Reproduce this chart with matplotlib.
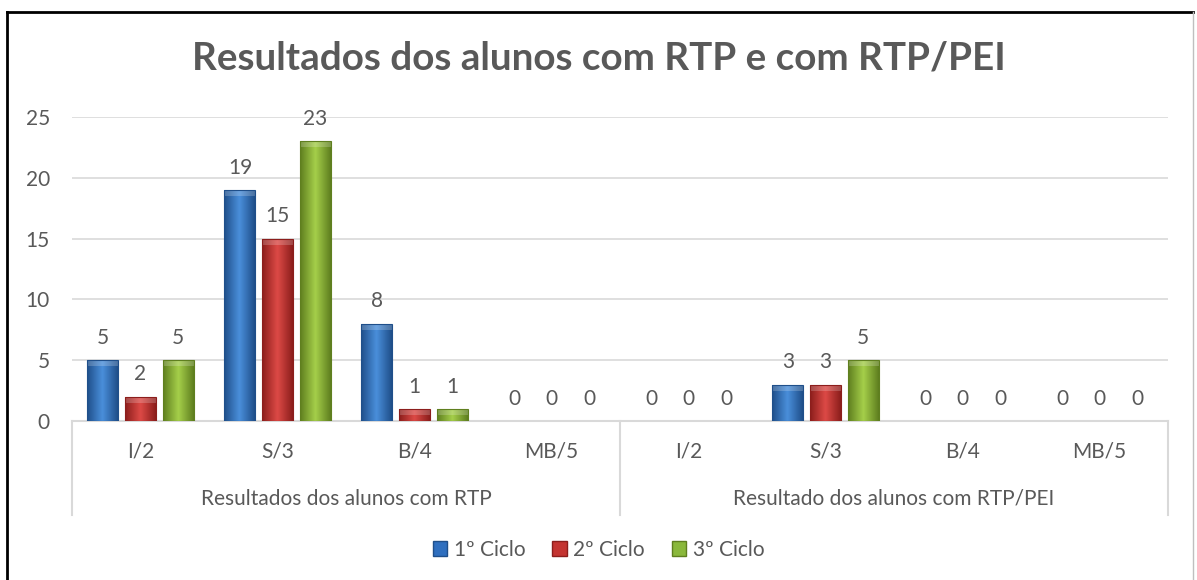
import matplotlib
matplotlib.use("Agg")
import matplotlib.pyplot as plt
import numpy as np
from matplotlib.colors import LinearSegmentedColormap
from matplotlib.lines import Line2D
from matplotlib.patches import Rectangle
from matplotlib.transforms import blended_transform_factory

plt.rcParams["font.family"] = ["Lato", "DejaVu Sans"]

TITLE = "Resultados dos alunos com RTP e com RTP/PEI"
grades = ["I/2", "S/3", "B/4", "MB/5"]
groups = ["Resultados dos alunos com RTP", "Resultado dos alunos com RTP/PEI"]
series_names = ["1º Ciclo", "2º Ciclo", "3º Ciclo"]

ciclo1 = [5, 19, 8, 0, 0, 3, 0, 0]
ciclo2 = [2, 15, 1, 0, 0, 3, 0, 0]
ciclo3 = [5, 23, 1, 0, 0, 5, 0, 0]

# dark edge, light centre, dark edge for the bevelled look
palettes = [
    ("#1f4f8a", "#4a8fdb", "#1f4f8a"),
    ("#8c1e1c", "#dd4a46", "#8c1e1c"),
    ("#5f7f1f", "#a5cf4a", "#5f7f1f"),
]
base_colors = ["#2f6fbf", "#c43431", "#8ab83b"]
text_color = "#595959"
grid_color = "#d9d9d9"
fs = 15

fig = plt.figure(figsize=(11.97, 5.80), dpi=100)
ax = fig.add_axes([72 / 1197, 1 - 421 / 580, 1096 / 1197, 304 / 580])

n_cat = len(grades) * len(groups)
x = np.arange(n_cat)
width = 0.226
step = 0.274
series = [ciclo1, ciclo2, ciclo3]

gradient = np.linspace(0, 1, 64).reshape(1, -1)
for i, (vals, pal, col) in enumerate(zip(series, palettes, base_colors)):
    cmap = LinearSegmentedColormap.from_list(f"c{i}", pal)
    pos = x + (i - 1) * step
    bars = ax.bar(pos, vals, width, color=col, zorder=2, edgecolor="none")
    for b, v in zip(bars, vals):
        if v <= 0:
            continue
        im = ax.imshow(gradient, cmap=cmap, aspect="auto", zorder=3,
                       extent=(b.get_x(), b.get_x() + b.get_width(), 0, v))
        im.set_clip_path(b)
        # lighter cap at the top of each bar
        cap = Rectangle((b.get_x(), v - 0.5), b.get_width(), 0.5,
                        facecolor="white", alpha=0.2, edgecolor="none", zorder=4)
        ax.add_patch(cap)
        ax.add_patch(Rectangle((b.get_x(), 0), b.get_width(), v, fill=False,
                               edgecolor=pal[0], linewidth=0.8, zorder=5))
    for px, v in zip(pos, vals):
        ax.annotate(str(v), (px, v), xytext=(0, 16), textcoords="offset points",
                    ha="center", va="center", fontsize=fs, color=text_color)

ax.set_xlim(-0.5, n_cat - 0.5)
ax.set_ylim(0, 25)
ax.set_yticks(range(0, 26, 5))
ax.tick_params(axis="y", length=0, labelsize=fs, labelcolor=text_color, pad=16)
ax.set_xticks([])
ax.grid(axis="y", color=grid_color, linewidth=1.2, zorder=0)
ax.set_axisbelow(True)
for s in ["top", "right", "left"]:
    ax.spines[s].set_visible(False)
ax.spines["bottom"].set_color(grid_color)
ax.spines["bottom"].set_linewidth(1.5)

# two-level category axis
trans = blended_transform_factory(ax.transData, ax.transAxes)
for k in range(n_cat):
    ax.text(k, -0.1, grades[k % len(grades)], transform=trans, ha="center",
            va="center", fontsize=fs, color=text_color)
for g, name in enumerate(groups):
    mid = g * len(grades) + (len(grades) - 1) / 2
    ax.text(mid, -0.255, name, transform=trans, ha="center", va="center",
            fontsize=fs, color=text_color)
for xb in [-0.5, len(grades) - 0.5, n_cat - 0.5]:
    ax.add_line(Line2D([xb, xb], [0, -0.31], transform=trans, color=grid_color,
                       linewidth=1.5, clip_on=False))

fig.text(0.5, 1 - 58 / 580, TITLE, ha="center", va="center", fontsize=27.8,
         fontweight="bold", color=text_color)

handles = [Rectangle((0, 0), 1, 1, facecolor=c, edgecolor=p[0])
           for c, p in zip(base_colors, palettes)]
fig.legend(handles, series_names, loc="center", bbox_to_anchor=(0.5, 1 - 550 / 580),
           ncol=3, frameon=False, fontsize=fs, labelcolor=text_color,
           handlelength=0.7, handleheight=0.7, handletextpad=0.3, columnspacing=1.3)

# outer frame of the chart: black top and left, grey right edge
top_y = 1 - 12 / 580
fig.add_artist(Line2D([7 / 1197, 7 / 1197], [0, top_y], transform=fig.transFigure,
                      color="black", linewidth=2))
fig.add_artist(Line2D([7 / 1197, 1193 / 1197], [top_y, top_y],
                      transform=fig.transFigure, color="black", linewidth=2))
fig.add_artist(Line2D([1193 / 1197, 1193 / 1197], [0, top_y],
                      transform=fig.transFigure, color="#bfbfbf", linewidth=1))

fig.savefig("out.png", dpi=100, facecolor="white")
